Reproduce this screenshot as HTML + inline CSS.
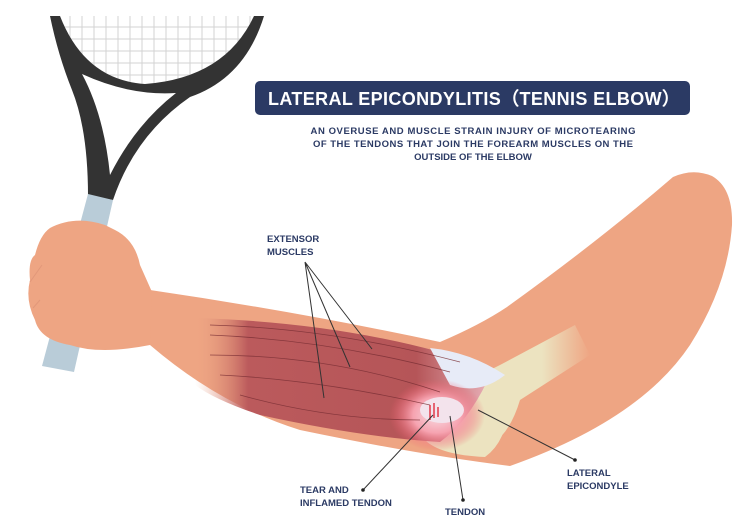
<!DOCTYPE html>
<html><head><style>
html,body{margin:0;padding:0;background:#fff;}
svg{display:block;}
text{font-family:"Liberation Sans",sans-serif;font-weight:bold;}
</style></head><body>
<svg width="743" height="519" viewBox="0 0 743 519" xmlns="http://www.w3.org/2000/svg">
<defs>
<clipPath id="head"><path d="M60,16 L254,16 Q225,78 145,84 Q85,80 60,16 Z"/></clipPath>
<linearGradient id="musc" x1="0" x2="1" y1="0" y2="0">
<stop offset="0" stop-color="#eea583" stop-opacity="0"/>
<stop offset="0.18" stop-color="#bb5a5c"/>
<stop offset="0.75" stop-color="#b55558"/>
<stop offset="1" stop-color="#e8b0b8"/>
</linearGradient>
<radialGradient id="infl" cx="0.5" cy="0.5" r="0.5">
<stop offset="0" stop-color="#f8dde4"/>
<stop offset="0.5" stop-color="#f6a3b0"/>
<stop offset="1" stop-color="#ef5a6a" stop-opacity="0"/>
</radialGradient>
<linearGradient id="bone" x1="0" x2="1"><stop offset="0.6" stop-color="#ece3c0"/><stop offset="1" stop-color="#ece3c0" stop-opacity="0"/></linearGradient>
</defs>
<!-- racket strings -->
<g clip-path="url(#head)" stroke="#d3d3d3" stroke-width="1">
<path d="M70,16V100M82,16V100M94,16V100M106,16V100M118,16V100M130,16V100M142,16V100M154,16V100M166,16V100M178,16V100M190,16V100M202,16V100M214,16V100M226,16V100M238,16V100M250,16V100"/>
<path d="M50,27H260M50,39H260M50,51H260M50,63H260M50,75H260"/>
</g>
<!-- racket frame -->
<path d="M50,16 L60,16 Q85,80 145,84 Q225,78 254,16 L264,16 Q245,78 190,97 Q135,135 113,200 L88,196 Q88,130 72,90 Q58,55 50,16 Z" fill="#333"/>
<path d="M82,74 Q130,96 176,93 Q135,125 110,175 Q104,115 82,74 Z" fill="#fff"/>
<!-- handle -->
<path d="M88,194 L113,200 L74,372 L42,366 Z" fill="#b9ccd8"/>
<!-- arm -->
<path d="M150,290 Q300,312 440,342 Q480,325 507,307 Q600,240 673,177 Q693,168 712,176 Q733,188 732,225 Q728,285 690,345 Q640,420 510,466 Q420,455 300,430 Q220,405 150,345 Z" fill="#eea583"/>
<!-- hand -->
<path d="M50,228 Q75,215 105,225 L115,230 Q135,240 140,265 L152,292 L150,345 Q100,355 70,345 Q40,340 35,320 Q25,300 30,280 Q28,260 35,255 Q40,235 50,228 Z" fill="#eea583"/>
<path d="M42,265 L30,282 M40,300 L33,308" stroke="#e2987a" stroke-width="1" fill="none"/>
<!-- bone -->
<path d="M470,380 L500,365 L575,325 L590,355 L520,400 Q505,450 470,450 Z" fill="url(#bone)"/>
<path d="M425,365 Q480,360 505,380 Q515,435 485,457 Q440,455 425,440 Z" fill="#ece3c0"/>
<!-- muscle -->
<path d="M195,318 Q330,322 440,352 Q470,360 490,375 Q470,420 440,442 Q360,437 260,415 Q215,400 195,385 Z" fill="url(#musc)"/>
<path d="M430,348 Q470,352 505,375 Q480,395 450,385 Z" fill="#e7ebf7"/>
<ellipse cx="437" cy="415" rx="48" ry="36" fill="url(#infl)"/>
<ellipse cx="442" cy="410" rx="22" ry="13" fill="#f3e3ec"/>
<g stroke="#e02030" stroke-width="1.3"><path d="M430,405V420M434,403V418M438,407V417"/></g>
<g stroke="#7a2f35" stroke-width="0.8" fill="none" opacity="0.8">
<path d="M210,335 Q330,340 450,372"/><path d="M210,355 Q330,355 440,392"/><path d="M220,375 Q320,380 430,405"/><path d="M240,395 Q330,420 420,420"/><path d="M210,325 Q330,328 460,362"/>
</g>
<!-- title -->
<rect x="255" y="81" width="435" height="34" rx="5" fill="#2b3a64"/>
<text x="474" y="105" fill="#fff" font-size="18" text-anchor="middle" textLength="412">LATERAL EPICONDYLITIS（TENNIS ELBOW）</text>
<g fill="#2b3a64" font-size="9.5" text-anchor="middle">
<text x="473" y="134" textLength="325">AN OVERUSE AND MUSCLE STRAIN INJURY OF MICROTEARING</text>
<text x="473" y="147" textLength="320">OF THE TENDONS THAT JOIN THE FOREARM MUSCLES ON THE</text>
<text x="473" y="160">OUTSIDE OF THE ELBOW</text>
</g>
<g fill="#2b3a64" font-size="9.5">
<text x="267" y="242">EXTENSOR</text><text x="267" y="255">MUSCLES</text>
<text x="300" y="493">TEAR AND</text><text x="300" y="506">INFLAMED TENDON</text>
<text x="445" y="515">TENDON</text>
<text x="567" y="476">LATERAL</text><text x="567" y="489">EPICONDYLE</text>
</g>
<g stroke="#333" stroke-width="1" fill="none">
<path d="M305,262 L324,398 M305,262 L350,367 M305,262 L372,349"/>
<path d="M363,490 L433,415"/>
<path d="M463,500 L450,416"/>
<path d="M575,460 L478,410"/>
</g>
<g fill="#222"><circle cx="363" cy="490" r="1.8"/><circle cx="463" cy="500" r="1.8"/><circle cx="575" cy="460" r="1.8"/></g>
</svg>
</body></html>
